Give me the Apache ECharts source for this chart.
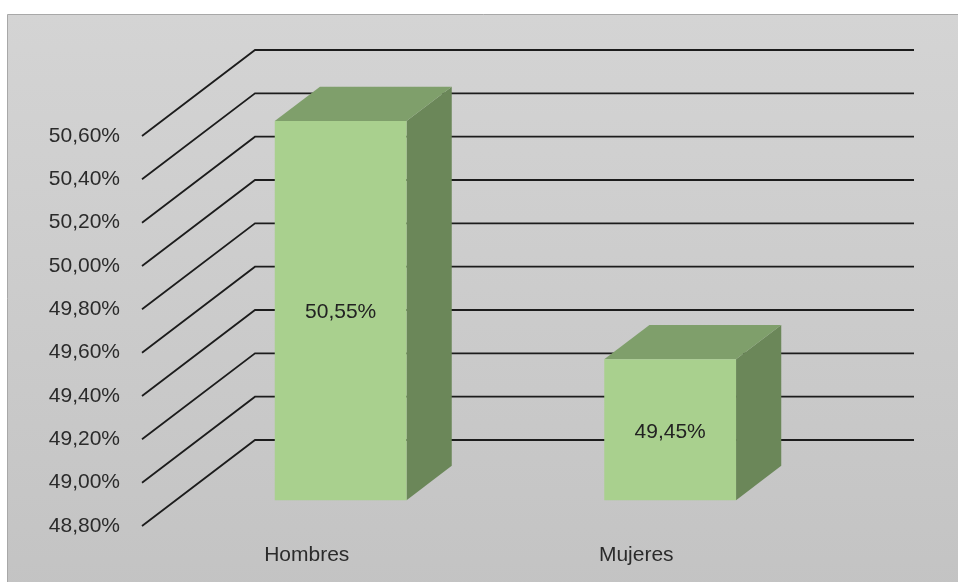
<!DOCTYPE html>
<html>
<head>
<meta charset="utf-8">
<title>Hombres / Mujeres</title>
<script src="https://cdn.jsdelivr.net/npm/echarts@6/dist/echarts.min.js"></script>
<style>
  html, body { margin: 0; padding: 0; background: #ffffff; }
  #chart { width: 958px; height: 582px; }
</style>
</head>
<body>
<div id="chart"></div>
<script>
// Data
const categories = ['Hombres', 'Mujeres'];
const values = [50.55, 49.45];
const yMin = 48.8;
const yMax = 50.6;
const yStep = 0.2;

// Perspective offset of the back wall relative to the front plane (pixels)
const DEPTH_X = 113;
const DEPTH_Y = -86;
// Bar front / back faces as fractions of the full depth
const BAR_FRONT = 0.30;
const BAR_BACK = 0.70;

const FONT = 'Liberation Sans';
const FONT_SIZE = 21;
const TEXT_COLOR = '#2b2b2b';
const GRID_COLOR = '#1c1c1c';

const fmtPct = v => v.toFixed(2).replace('.', ',') + '%';

// Gridline levels follow the value axis ticks
const levels = [];
const nSteps = Math.round((yMax - yMin) / yStep);
for (let i = 0; i <= nSteps; i++) levels.push(+(yMin + i * yStep).toFixed(2));

const chart = echarts.init(document.getElementById('chart'), null, { renderer: 'canvas' });

// Left wall diagonals and back wall gridlines
function renderWalls(params, api) {
  const cs = params.coordSys;
  const y = api.coord([0, api.value(1)])[1];
  const x0 = cs.x;
  const x1 = cs.x + cs.width;
  return {
    type: 'polyline',
    shape: {
      points: [
        [x0, y],
        [x0 + DEPTH_X, y + DEPTH_Y],
        [x1 + DEPTH_X, y + DEPTH_Y]
      ]
    },
    style: { stroke: GRID_COLOR, lineWidth: 1.8, fill: null }
  };
}

// 3D-looking bars: front, top and side faces
function renderBar(params, api) {
  const idx = api.value(0);
  const val = api.value(1);
  const top = api.coord([idx, val]);
  const base = api.coord([idx, yMin]);
  const bw = api.size([1, 0])[0] * 0.4;
  const xl = top[0] - bw / 2;
  const xr = top[0] + bw / 2;
  const fx = BAR_FRONT * DEPTH_X, fy = BAR_FRONT * DEPTH_Y;
  const bx = BAR_BACK * DEPTH_X, by = BAR_BACK * DEPTH_Y;
  const yt = top[1], yb = base[1];
  return {
    type: 'group',
    children: [
      {
        type: 'polygon',
        shape: { points: [[xr + fx, yt + fy], [xr + bx, yt + by], [xr + bx, yb + by], [xr + fx, yb + fy]] },
        style: { fill: '#6b8759' }
      },
      {
        type: 'polygon',
        shape: { points: [[xl + fx, yt + fy], [xr + fx, yt + fy], [xr + bx, yt + by], [xl + bx, yt + by]] },
        style: { fill: '#7f9f6b' }
      },
      {
        type: 'rect',
        shape: { x: xl + fx, y: yt + fy, width: bw, height: yb - yt },
        style: { fill: '#a9d08e' }
      },
      {
        type: 'text',
        style: {
          x: top[0] + fx,
          y: (yt + yb) / 2 + fy + 2,
          text: fmtPct(val),
          fill: '#222222',
          font: FONT_SIZE + 'px "' + FONT + '"',
          align: 'center',
          verticalAlign: 'middle'
        }
      }
    ]
  };
}

chart.setOption({
  animation: false,
  backgroundColor: '#ffffff',
  graphic: [
    {
      type: 'rect',
      z: -10,
      shape: { x: 7.5, y: 14.5, width: 960, height: 580 },
      style: {
        fill: new echarts.graphic.LinearGradient(0, 0, 0, 1, [
          { offset: 0, color: '#d4d4d4' },
          { offset: 1, color: '#c3c3c3' }
        ]),
        stroke: '#a8a8a8',
        lineWidth: 1
      }
    }
  ],
  grid: { left: 142, right: 157, top: 136, bottom: 56 },
  xAxis: {
    type: 'category',
    data: categories,
    axisLine: { show: false },
    axisTick: { show: false },
    axisLabel: { margin: 19, color: TEXT_COLOR, fontFamily: FONT, fontSize: FONT_SIZE },
    splitLine: { show: false }
  },
  yAxis: {
    type: 'value',
    min: yMin,
    max: yMax,
    interval: yStep,
    axisLine: { show: false },
    axisTick: { show: false },
    splitLine: { show: false },
    axisLabel: {
      margin: 22,
      padding: [7, 0, 0, 0],
      color: TEXT_COLOR,
      fontFamily: FONT,
      fontSize: FONT_SIZE,
      formatter: v => fmtPct(v)
    }
  },
  series: [
    {
      type: 'custom',
      name: 'walls',
      renderItem: renderWalls,
      data: levels.map(v => [0, v]),
      silent: true,
      z: 1
    },
    {
      type: 'custom',
      name: 'valores',
      renderItem: renderBar,
      data: values.map((v, i) => [i, v]),
      z: 2
    }
  ]
});
</script>
</body>
</html>
